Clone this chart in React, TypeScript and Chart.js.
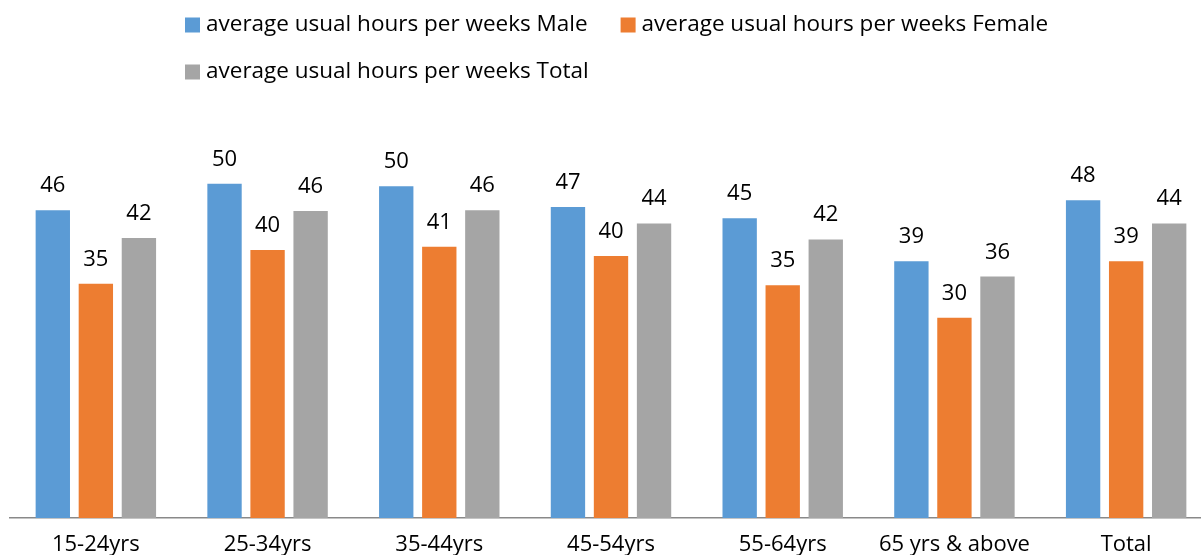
import React, { useEffect, useRef } from "react";
import { Chart, registerables } from "chart.js";

Chart.register(...registerables);

const categories = ["15-24yrs", "25-34yrs", "35-44yrs", "45-54yrs", "55-64yrs", "65 yrs & above", "Total"];
const maleHours = [46.4, 50.4, 50.0, 46.9, 45.2, 38.7, 47.9];
const femaleHours = [35.3, 40.4, 40.9, 39.5, 35.1, 30.2, 38.7];
const totalHours = [42.2, 46.3, 46.4, 44.4, 42.0, 36.4, 44.4];
const seriesNames = [
  "average usual hours per weeks Male",
  "average usual hours per weeks Female",
  "average usual hours per weeks Total",
];
const seriesColors = ["#5B9BD5", "#ED7D31", "#A5A5A5"];
const yMin = 0;
const yMax = 60;

const FONT = "'Open Sans', 'Noto Sans', sans-serif";

const valueLabelPlugin = {
  id: "valueLabels",
  afterDatasetsDraw(chart: any) {
    const ctx = chart.ctx;
    ctx.save();
    ctx.font = `22px ${FONT}`;
    ctx.fillStyle = "#000000";
    ctx.textAlign = "center";
    ctx.textBaseline = "alphabetic";
    chart.data.datasets.forEach((ds: any, i: number) => {
      const meta = chart.getDatasetMeta(i);
      meta.data.forEach((el: any, j: number) => {
        const v = ds.data[j];
        ctx.fillText(String(Math.round(v)), el.x, el.y - 18);
      });
    });
    ctx.restore();
  },
};

const customLegendPlugin = {
  id: "customLegend",
  afterDraw(chart: any) {
    const ctx = chart.ctx;
    ctx.save();
    ctx.font = `22.5px ${FONT}`;
    ctx.textBaseline = "middle";
    ctx.textAlign = "left";
    const startX = 185;
    const rows = [25, 72];
    const box = 15;
    const textGap = 6;
    const itemGap = 33;
    let x = startX;
    let row = 0;
    chart.data.datasets.forEach((ds: any, i: number) => {
      if (i === 2) {
        row = 1;
        x = startX;
      }
      const cy = rows[row];
      ctx.fillStyle = ds.backgroundColor;
      ctx.fillRect(x, cy - box / 2, box, box);
      ctx.fillStyle = "#000000";
      ctx.fillText(ds.label, x + box + textGap, cy);
      x += box + textGap + ctx.measureText(ds.label).width + itemGap;
    });
    ctx.restore();
  },
};

export default function App() {
  const canvasRef = useRef<HTMLCanvasElement | null>(null);

  useEffect(() => {
    const canvas = canvasRef.current;
    if (!canvas) return;
    const chart = new Chart(canvas, {
      type: "bar",
      data: {
        labels: categories,
        datasets: [maleHours, femaleHours, totalHours].map((d, i) => ({
          label: seriesNames[i],
          data: d,
          backgroundColor: seriesColors[i],
          borderWidth: 0,
          categoryPercentage: 0.752,
          barPercentage: 0.798,
        })),
      },
      options: {
        responsive: false,
        animation: false,
        devicePixelRatio: 1,
        layout: { padding: { left: 10, right: 0, top: 120, bottom: 3.6 } },
        plugins: {
          legend: { display: false },
          tooltip: { enabled: false },
          title: { display: false },
        },
        scales: {
          x: {
            grid: { display: false, drawTicks: false },
            border: { display: true, color: "#898989", width: 1.5 },
            ticks: {
              color: "#000000",
              font: { family: FONT, size: 22, lineHeight: 1.2 },
              padding: 14,
              maxRotation: 0,
              autoSkip: false,
            },
          },
          y: {
            display: false,
            min: yMin,
            max: yMax,
          },
        },
      },
      plugins: [valueLabelPlugin, customLegendPlugin],
    });
    return () => chart.destroy();
  }, []);

  return (
    <div
      style={{
        position: "fixed",
        left: 0,
        top: 0,
        width: 1201,
        height: 555,
        overflow: "hidden",
        background: "#ffffff",
      }}
    >
      <canvas ref={canvasRef} width={1212} height={576} style={{ display: "block" }} />
    </div>
  );
}
